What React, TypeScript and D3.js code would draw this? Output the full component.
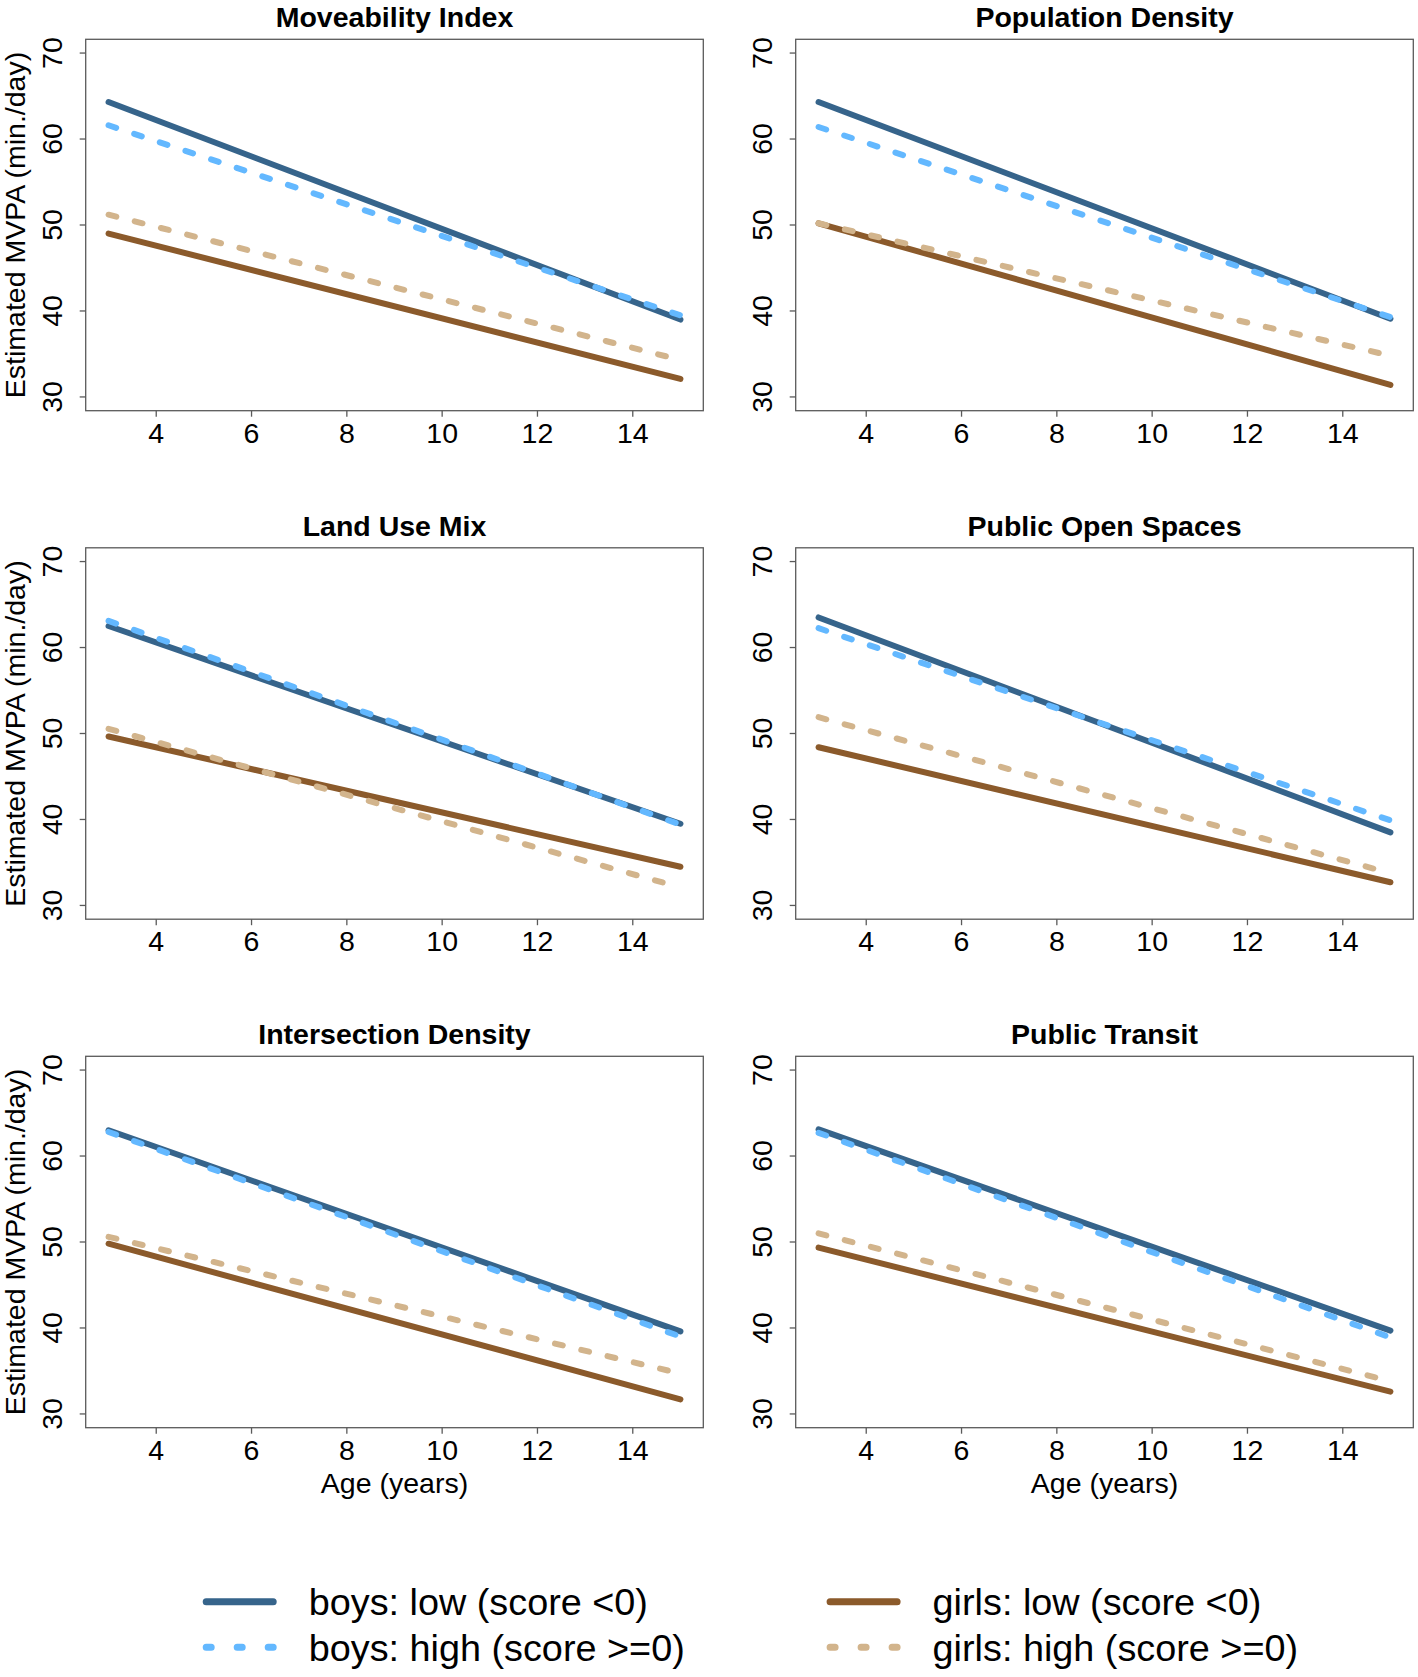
import React from "react";
import * as d3 from "d3";

const AGES = [3, 15];
const X_TICKS = [4, 6, 8, 10, 12, 14];
const Y_TICKS = [30, 40, 50, 60, 70];
const PANEL_TITLES = [
  "Moveability Index",
  "Population Density",
  "Land Use Mix",
  "Public Open Spaces",
  "Intersection Density",
  "Public Transit",
];
// values at age 3 and age 15 for each panel
const BOYS_LOW = [[64.3, 39.0], [64.3, 39.1], [62.5, 39.5], [63.5, 38.5], [63.0, 39.6], [63.1, 39.7]];
const BOYS_HIGH = [[61.6, 39.5], [61.4, 39.3], [63.1, 39.4], [62.25, 39.9], [62.8, 39.0], [62.7, 38.9]];
const GIRLS_LOW = [[49.0, 32.1], [50.2, 31.4], [49.65, 34.5], [48.4, 32.7], [49.8, 31.7], [49.35, 32.6]];
const GIRLS_HIGH = [[51.2, 34.3], [50.2, 34.8], [50.55, 32.1], [51.9, 33.75], [50.6, 34.7], [51.0, 33.8]];
const LEGEND_LABELS = [
  "boys: low (score <0)",
  "boys: high (score >=0)",
  "girls: low (score <0)",
  "girls: high (score >=0)",
];

const COL_BOYS_LOW = "#36648B";
const COL_BOYS_HIGH = "#63B8FF";
const COL_GIRLS_LOW = "#8B5A2B";
const COL_GIRLS_HIGH = "#D2B48C";

const W = 1418;
const H = 1677;
const FONT = "'Liberation Sans', Arial, Helvetica, sans-serif";
const COL_LEFT = [85.7, 795.7];
const ROW_TOP = [39.3, 547.8, 1056.3];
const PW = 617.6;
const PH = 371.4;
const AXIS_COL = "#5a5a5a";
const DASH = "8 19";

const series = [
  { vals: BOYS_LOW, color: COL_BOYS_LOW, dashed: false },
  { vals: BOYS_HIGH, color: COL_BOYS_HIGH, dashed: true },
  { vals: GIRLS_LOW, color: COL_GIRLS_LOW, dashed: false },
  { vals: GIRLS_HIGH, color: COL_GIRLS_HIGH, dashed: true },
];

function Panel({ idx }: { idx: number }) {
  const col = idx % 2;
  const row = Math.floor(idx / 2);
  const x0 = COL_LEFT[col];
  const y0 = ROW_TOP[row];
  const x = d3.scaleLinear().domain([2.52, 15.48]).range([0, PW]);
  const y = d3.scaleLinear().domain([28.4, 71.6]).range([PH, 0]);
  const line = d3
    .line<[number, number]>()
    .x((d) => x(d[0]))
    .y((d) => y(d[1]));
  return (
    <g transform={`translate(${x0},${y0})`}>
      <text
        x={PW / 2}
        y={-12}
        textAnchor="middle"
        fontWeight="bold"
        fontSize={28.5}
        fontFamily={FONT}
      >
        {PANEL_TITLES[idx]}
      </text>
      {series.map((s, i) => (
        <path
          key={i}
          d={line(AGES.map((a, k) => [a, s.vals[idx][k]]) as [number, number][]) || ""}
          fill="none"
          stroke={s.color}
          strokeWidth={6}
          strokeLinecap="round"
          strokeDasharray={s.dashed ? DASH : undefined}
        />
      ))}
      <rect x={0} y={0} width={PW} height={PH} fill="none" stroke={AXIS_COL} strokeWidth={1.3} />
      {X_TICKS.map((t) => (
        <g key={t} transform={`translate(${x(t)},${PH})`}>
          <line y1={0} y2={6} stroke={AXIS_COL} strokeWidth={1.3} />
          <text y={32} textAnchor="middle" fontSize={28.5} fontFamily={FONT}>
            {t}
          </text>
        </g>
      ))}
      {Y_TICKS.map((t) => (
        <g key={t} transform={`translate(0,${y(t)})`}>
          <line x1={0} x2={-6} stroke={AXIS_COL} strokeWidth={1.3} />
          <text
            transform="translate(-23.5,0) rotate(-90)"
            textAnchor="middle"
            fontSize={28.5}
            fontFamily={FONT}
          >
            {t}
          </text>
        </g>
      ))}
      {col === 0 && (
        <text
          transform={`translate(${25 - x0},${PH / 2}) rotate(-90)`}
          textAnchor="middle"
          fontSize={28.5}
          fontFamily={FONT}
        >
          Estimated MVPA (min./day)
        </text>
      )}
      {row === 2 && (
        <text x={PW / 2} y={PH + 65} textAnchor="middle" fontSize={28.5} fontFamily={FONT}>
          Age (years)
        </text>
      )}
    </g>
  );
}

function Legend() {
  const items = [
    { x: 202.7, y: 1601.7, color: COL_BOYS_LOW, dashed: false, label: LEGEND_LABELS[0] },
    { x: 202.7, y: 1647.3, color: COL_BOYS_HIGH, dashed: true, label: LEGEND_LABELS[1] },
    { x: 826.6, y: 1601.7, color: COL_GIRLS_LOW, dashed: false, label: LEGEND_LABELS[2] },
    { x: 826.6, y: 1647.3, color: COL_GIRLS_HIGH, dashed: true, label: LEGEND_LABELS[3] },
  ];
  return (
    <g>
      {items.map((it, i) => (
        <g key={i}>
          <line
            x1={it.x + 3.5}
            x2={it.x + 70.5}
            y1={it.y}
            y2={it.y}
            stroke={it.color}
            strokeWidth={7}
            strokeLinecap="round"
            strokeDasharray={it.dashed ? "5 26" : undefined}
          />
          <text x={it.x + 106} y={it.y + 13.3} fontSize={37.8} fontFamily={FONT}>
            {it.label}
          </text>
        </g>
      ))}
    </g>
  );
}

export default function App() {
  return (
    <svg
      width={W}
      height={H}
      viewBox={`0 0 ${W} ${H}`}
      style={{ position: "absolute", left: 0, top: 0, background: "#fff" }}
    >
      <rect width={W} height={H} fill="#fff" />
      {PANEL_TITLES.map((_, i) => (
        <Panel key={i} idx={i} />
      ))}
      <Legend />
    </svg>
  );
}
